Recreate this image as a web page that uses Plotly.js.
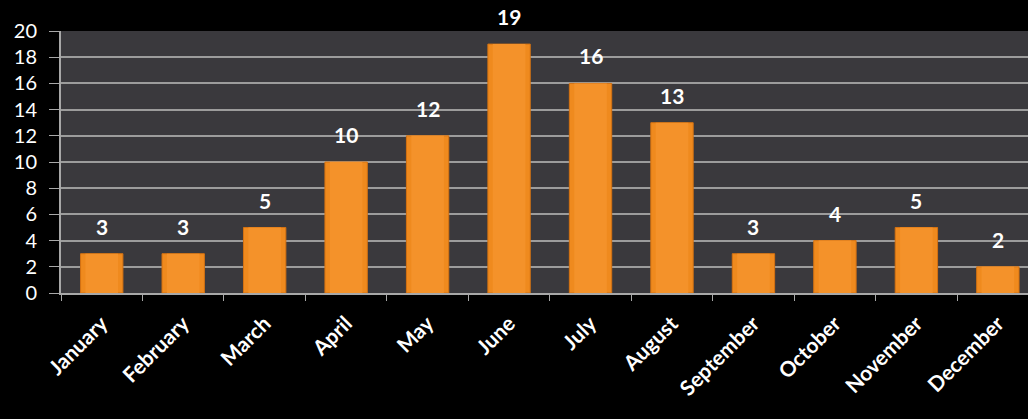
<!DOCTYPE html>
<html><head><meta charset="utf-8">
<script src="https://cdn.plot.ly/plotly-3.0.1.min.js"></script>
<style>html,body{margin:0;padding:0;background:#000;}#chart{width:1028px;height:419px;}</style>
</head><body><div id="chart"></div>
<script>
const months = ["January","February","March","April","May","June","July","August","September","October","November","December"];
const counts = [3,3,5,10,12,19,16,13,3,4,5,2];
const yTicks = [0,2,4,6,8,10,12,14,16,18,20];

const outer = {
  type: "bar", x: months, y: counts, width: 0.52,
  marker: {color: "#ef8a1e", line: {color: "#d47212", width: 1}},
  hoverinfo: "x+y"
};
const inner = {
  type: "bar", x: months, y: counts, width: 0.4,
  marker: {color: "#f4922a", line: {width: 0}},
  hoverinfo: "skip"
};

const annotations = months.map((m, i) => ({
  x: m, y: counts[i], xref: "x", yref: "y",
  text: String(counts[i]), showarrow: false,
  yanchor: "bottom", yshift: 13,
  font: {family: "Lato, 'Open Sans', sans-serif", size: 21, color: "#ffffff", weight: "bold"}
}));

const layout = {
  width: 1028, height: 419,
  margin: {l: 61, r: 0, t: 31, b: 126},
  paper_bgcolor: "#000000",
  plot_bgcolor: "#3a393d",
  showlegend: false,
  barmode: "overlay",
  xaxis: {
    type: "category",
    range: [-0.5, 11.37],
    tickangle: -45,
    tickson: "boundaries",
    ticks: "outside", ticklen: 6, tickcolor: "#a8a8a8",
    ticklabelstandoff: 8,
    showline: true, linecolor: "#a8a8a8", linewidth: 2,
    showgrid: false,
    tickfont: {family: "Lato, 'Open Sans', sans-serif", size: 21, color: "#ffffff", weight: "bold"}
  },
  yaxis: {
    range: [0, 20],
    tickvals: yTicks,
    ticks: "outside", ticklen: 10, tickcolor: "#a8a8a8",
    ticklabelstandoff: 8,
    showline: true, linecolor: "#a8a8a8", linewidth: 2,
    gridcolor: "#9c9c9c", gridwidth: 2,
    zeroline: false,
    tickfont: {family: "Lato, 'Open Sans', sans-serif", size: 20, color: "#ffffff"}
  },
  annotations: annotations
};

Plotly.newPlot("chart", [outer, inner], layout, {displayModeBar: false, staticPlot: true});
</script>
</body></html>
